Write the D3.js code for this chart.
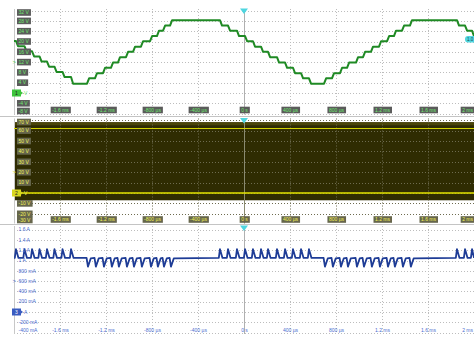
<!DOCTYPE html>
<html>
<head>
<meta charset="utf-8">
<script src="https://cdn.jsdelivr.net/npm/d3@7"></script>
<style>
  body { margin: 0; background: #fff; }
  svg { display: block; font-family: "Liberation Sans", Arial, sans-serif; }
</style>
</head>
<body>
<script>
// Data
const timeTicks = [-1600, -1200, -800, -400, 0, 400, 800, 1200, 1600, 2000];
const timeTickLabels = ["-1.6 ms", "-1.2 ms", "-800 µs", "-400 µs", "0 s", "400 µs", "800 µs", "1.2 ms", "1.6 ms", "2 ms"];

const ch1Ticks = [32, 28, 24, 20, 16, 12, 8, 4, 0, -4, -8];
const ch2Ticks = [70, 60, 50, 40, 30, 20, 10, 0, -10, -20, -30];
const ch3Ticks = [1.6, 1.4, 1.2, 1, 0.8, 0.6, 0.4, 0.2, 0, -0.2, -0.4];
const ch3TickLabels = ["1.6 A", "1.4 A", "1.2 A", "1 A", "800 mA", "600 mA", "400 mA", "200 mA", "0 A", "-200 mA", "-400 mA"];

// ch1: stepped voltage, time of each step (µs) and level after it (V)
const stepTimes = [-2000, -1983, -1909, -1843, -1778, -1713, -1648, -1578, -1504,
  -1365, -1296, -1226, -1157, -1096, -1026, -965, -896, -817, -757, -704, -643,
  -209, -139, -61, 9, 78, 148, 209, 287, 357, 426, 496, 565,
  696, 765, 835, 896, 974, 1035, 1104, 1174, 1244, 1304, 1374, 1443,
  1852, 1922, 1983];
const stepLevels = [20.2, 18.2, 16.2, 14.2, 12.2, 10.2, 8.2, 6.2, 3.6,
  5.7, 7.7, 9.8, 11.8, 13.9, 16.0, 18.0, 20.1, 22.1, 24.2, 26.2, 28.3,
  26.2, 24.2, 22.1, 20.1, 18.0, 16.0, 13.9, 11.8, 9.8, 7.7, 5.7, 3.6,
  5.7, 7.7, 9.8, 11.8, 13.9, 16.0, 18.0, 20.1, 22.1, 24.2, 26.2, 28.3,
  26.2, 24.2, 22.1];

// ch2: PWM switching band (V)
const ch2High = 62;
const ch2Low = 0;
const ch2BandTop = 68;
const ch2BandBottom = -7;

// ch3: current (A)
const ch3Base = 1.05;
const ch3Peak = 1.22;
const ch3Dip = 0.88;
const spikeTimes = [-1983, -1909, -1843, -1778, -1713, -1648, -1578, -1504,
  -209, -139, -61, 9, 78, 148, 209, 287, 357, 426, 496, 565,
  1852, 1922, 1983];
const dipTimes = [-1365, -1296, -1226, -1157, -1096, -1026, -965, -896, -817, -757, -704, -643,
  696, 765, 835, 896, 974, 1035, 1104, 1174, 1244, 1304, 1374, 1443];

// Main
const W = 474, H = 337;
const svg = d3.select("body").append("svg").attr("width", W).attr("height", H);

const x = d3.scaleLinear().domain([-2000, 2000]).range([14, 474]);
const y1 = d3.scaleLinear().domain([-8, 32]).range([113.6, 10.6]);
const y2 = d3.scaleLinear().domain([-30, 70]).range([224.2, 120.2]);
const y3 = d3.scaleLinear().domain([-0.4, 1.6]).range([332.6, 229.6]);

const panels = [
  { y: y1, top: 9, bottom: 114.5, ticks: ch1Ticks, labels: ch1Ticks.map(d => d + " V"), unit: " V",
    offset: 12, color: "#3cc43c", text: "#6ee86e", box: "#5b5b5b", xLabelY: 110, num: "1" },
  { y: y2, top: 118.5, bottom: 223.5, ticks: ch2Ticks, labels: ch2Ticks.map(d => d + " V"), unit: " V",
    offset: 20, color: "#d8d820", text: "#f2f25a", box: "#66664c", xLabelY: 219.5, num: "2" },
  { y: y3, top: 226, bottom: 334, ticks: ch3Ticks, labels: ch3TickLabels, unit: " A",
    offset: 0.6, color: "#3a5cc0", text: "#4a6cd0", box: null, xLabelY: 330.5, num: "3" }
];

// panel separators
svg.selectAll(".sep").data([116.5, 224.5]).join("line")
  .attr("x1", 0).attr("x2", W).attr("y1", d => d).attr("y2", d => d)
  .attr("stroke", "#c4c4c4").attr("stroke-width", 1);

// ch2 band
svg.append("rect")
  .attr("x", x(-2000)).attr("width", x(2000) - x(-2000))
  .attr("y", y2(ch2BandTop)).attr("height", y2(ch2BandBottom) - y2(ch2BandTop))
  .attr("fill", "#2f2c02");
svg.append("rect")
  .attr("x", x(-2000)).attr("width", x(2000) - x(-2000))
  .attr("y", y2(ch2BandTop)).attr("height", 3)
  .attr("fill", "#4a4508");

panels.forEach((p, pi) => {
  const g = svg.append("g");
  const onDark = pi === 1;
  // horizontal grid
  g.selectAll(".hg").data(p.ticks.filter(v => p.y(v) > p.top && p.y(v) < p.bottom)).join("line")
    .attr("x1", 14).attr("x2", 474)
    .attr("y1", d => Math.round(p.y(d)) + 0.5).attr("y2", d => Math.round(p.y(d)) + 0.5)
    .attr("stroke", onDark ? "#6e6c50" : "#bdbdbd").attr("stroke-dasharray", "1,2");
  // vertical grid
  g.selectAll(".vg").data(timeTicks.filter(t => t !== 0 && t < 2000)).join("line")
    .attr("x1", d => Math.round(x(d)) + 0.5).attr("x2", d => Math.round(x(d)) + 0.5)
    .attr("y1", p.top).attr("y2", p.bottom)
    .attr("stroke", onDark ? "#6e6c50" : "#bdbdbd").attr("stroke-dasharray", "1,2");
  // left border and center line
  g.append("line").attr("x1", 14.5).attr("x2", 14.5).attr("y1", p.top).attr("y2", p.bottom)
    .attr("stroke", "#c8c8c8");
  g.append("line").attr("x1", Math.round(x(0)) + 0.5).attr("x2", Math.round(x(0)) + 0.5)
    .attr("y1", p.top).attr("y2", p.bottom).attr("stroke", onDark ? "#8a8a70" : "#b0b0b0");
  // trigger triangle
  const cx = x(0);
  g.append("path")
    .attr("d", `M${cx - 4},${p.top - 0.5}L${cx + 4},${p.top - 0.5}L${cx},${p.top + 5}Z`)
    .attr("fill", "#4fd6e0");
});

// ch2 levels
svg.append("line").attr("x1", x(-2000)).attr("x2", x(2000))
  .attr("y1", y2(ch2High)).attr("y2", y2(ch2High))
  .attr("stroke", "#d6d600").attr("stroke-width", 1);
svg.append("line").attr("x1", x(-2000)).attr("x2", x(2000))
  .attr("y1", y2(ch2Low)).attr("y2", y2(ch2Low))
  .attr("stroke", "#e4e400").attr("stroke-width", 1.6);

// ch1 trace
const ch1Pts = [];
stepTimes.forEach((t, i) => {
  if (i > 0) ch1Pts.push([t, stepLevels[i - 1]]);
  ch1Pts.push([i > 0 ? t + 18 : t, stepLevels[i]]);
});
ch1Pts.push([2000, stepLevels[stepLevels.length - 1]]);
svg.append("path")
  .datum(ch1Pts.filter(d => d[0] <= 2000))
  .attr("fill", "none").attr("stroke", "#1f8a24").attr("stroke-width", 2)
  .attr("stroke-linejoin", "round")
  .attr("d", d3.line().x(d => x(d[0])).y(d => y1(d[1])));

// ch3 trace
let ch3Pts = [[-2000, ch3Base], [2000, ch3Base]];
spikeTimes.forEach(t => {
  ch3Pts.push([t - 10, ch3Base], [t, ch3Peak], [t + 22, ch3Base]);
});
dipTimes.forEach(t => {
  ch3Pts.push([t - 4, ch3Base], [t + 8, ch3Dip], [t + 32, ch3Base - 0.01]);
});
ch3Pts = ch3Pts.filter(d => d[0] >= -2000 && d[0] <= 2000).sort((a, b) => a[0] - b[0]);
svg.append("path")
  .datum(ch3Pts)
  .attr("fill", "none").attr("stroke", "#1e3c96").attr("stroke-width", 1.8)
  .attr("stroke-linejoin", "round")
  .attr("d", d3.line().x(d => x(d[0])).y(d => y3(d[1])));

// labels
panels.forEach((p, pi) => {
  const g = svg.append("g").style("font-size", "5px");
  // y labels
  p.ticks.forEach((v, i) => {
    const yy = Math.max(p.top + 3.5, Math.min(p.bottom - 3.5, p.y(v)));
    if (v === 0) {
      g.append("rect").attr("x", 12.5).attr("y", yy - 3).attr("width", 8).attr("height", 6)
        .attr("fill", p.color).attr("stroke", p.color);
      g.append("text").attr("x", 16.5).attr("y", yy).attr("dy", "0.35em")
        .attr("text-anchor", "middle").attr("fill", pi === 2 ? "#fff" : "#222").text(p.num);
      g.append("path").attr("d", `M20.5,${yy - 2}L23,${yy}L20.5,${yy + 2}Z`).attr("fill", p.color);
      g.append("text").attr("x", 24).attr("y", yy).attr("dy", "0.35em")
        .attr("fill", p.text).text(p.unit.trim());
      return;
    }
    const t = g.append("text").attr("x", 18.5).attr("y", yy).attr("dy", "0.35em")
      .attr("fill", p.text).text(p.labels[i]);
    if (p.box) {
      const b = t.node().getBBox();
      g.insert("rect", () => t.node())
        .attr("x", 17).attr("y", yy - 3.3).attr("width", b.width + 3).attr("height", 6.6)
        .attr("fill", p.box);
    }
  });
  // offset marker
  const oy = p.y(p.offset);
  g.append("text").attr("x", 12.5).attr("y", oy).attr("dy", "0.35em")
    .attr("fill", p.color).style("font-size", "6px").text(">");

  // x labels
  const ax = g.append("g").attr("transform", `translate(0,${p.xLabelY})`)
    .call(d3.axisBottom(x).tickValues(timeTicks).tickFormat((d, i) => timeTickLabels[i])
      .tickSize(0).tickPadding(0));
  ax.select(".domain").remove();
  ax.selectAll("text").attr("y", 0).attr("dy", "0.35em")
    .attr("fill", p.text).style("font-size", "5px")
    .attr("font-family", "Liberation Sans, Arial, sans-serif");
  // keep the last label inside the right edge
  ax.selectAll(".tick").filter(d => d === 2000).select("text")
    .attr("text-anchor", "end").attr("x", -1.5);
  if (p.box) {
    ax.selectAll(".tick").each(function () {
      const tx = d3.select(this).select("text");
      const b = tx.node().getBBox();
      d3.select(this).insert("rect", "text")
        .attr("x", b.x - 1.5).attr("y", -3.3).attr("width", b.width + 3).attr("height", 6.6)
        .attr("fill", p.box);
    });
  }
});

// cursor readout bubble on ch1
svg.append("rect").attr("x", 465).attr("y", 36).attr("width", 14).attr("height", 6.5)
  .attr("rx", 3).attr("fill", "#4fd6e0");
svg.append("text").attr("x", 467).attr("y", 39.3).attr("dy", "0.35em")
  .style("font-size", "4.5px").attr("fill", "#1a4a50").text("1.0");
</script>
</body>
</html>
